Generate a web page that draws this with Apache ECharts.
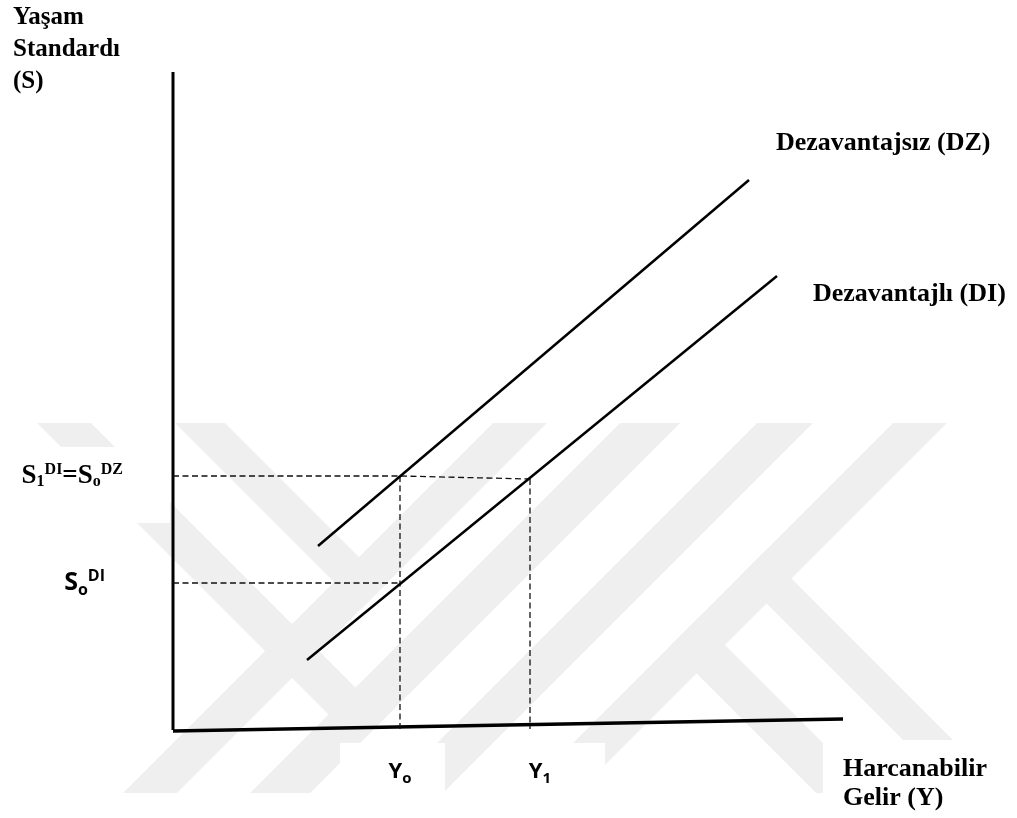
<!DOCTYPE html>
<html>
<head>
<meta charset="utf-8">
<script src="https://cdn.jsdelivr.net/npm/echarts@6/dist/echarts.min.js"></script>
<style>
  html, body { margin: 0; padding: 0; background: #fff; }
  #main { width: 1017px; height: 818px; }
</style>
</head>
<body>
<div id="main"></div>
<script>
// values are in axis units, origin at the corner of the two axes
const dzLine = [[145, 184], [576, 550]];
const diLine = [[134, 70], [604, 454]];
const yAxisLine = [[0, 0], [0, 658]];
const xAxisLine = [[0, -1], [670, 11]];

const incomeTicks = [227, 357];
const incomeTickLabels = ['{m|Y}{s|o}', '{m1|Y}{s|1}'];
const levelTicks = [147, 254];
const levelTickLabels = ['{c|S}{cs|o}{cp|DI}', '{b|S}{bs|1}{bp|DI}{b|=S}{bs|o}{bp|DZ}'];

const guideS1 = [[0, 254], [227, 254], [357, 251]];
const guideS0 = [[0, 147], [227, 147]];
const guideY0 = [[227, 254], [227, 0]];
const guideY1 = [[357, 251], [357, 1]];

const serif = '"Liberation Serif", "Times New Roman", serif';
const sans = '"Open Sans", "Noto Sans", sans-serif';

// faint background watermark (diagonal bands)
const T = 423, B = 793;
const slash = (a, b) => [[a - T, T], [b - T, T], [b - B, B], [a - B, B]];
const arm = (c, d, e) => [[c + T, T], [d + T, T], [(d + e) / 2, (e - d) / 2], [(c + e) / 2, (e - c) / 2]];
const leg = (c, d, e) => [[(c + e) / 2, (e - c) / 2], [(d + e) / 2, (e - d) / 2], [d + B, B], [c + B, B]];
const wmShapes = [
  slash(916, 970), slash(1043, 1103), slash(1180, 1236), slash(1316, 1370),
  arm(-248, -198, 970), arm(-386, -332, 1103),
  leg(23, 80, 1316), leg(163, 213, 1316)
];
const wmFill = '#efefef';

const graphic = wmShapes.map(p => ({
  type: 'polygon', shape: { points: p }, style: { fill: wmFill }, z: 0, silent: true
}));
// white boxes behind the labels in the source document
[[0, 447, 170, 76], [340, 743, 105, 50], [500, 743, 105, 50], [823, 740, 194, 78]].forEach(r => {
  graphic.push({ type: 'rect', shape: { x: r[0], y: r[1], width: r[2], height: r[3] }, style: { fill: '#fff' }, z: 0, silent: true });
});
graphic.push({
  type: 'text', left: 13, top: 2, z: 5,
  style: { text: 'Yaşam\nStandardı\n(S)', font: 'bold 25px ' + serif, lineHeight: 32, fill: '#000' }
});
graphic.push({
  type: 'text', left: 843, top: 755, z: 5,
  style: { text: 'Harcanabilir\nGelir (Y)', font: 'bold 26px ' + serif, lineHeight: 29, fill: '#000' }
});

const chart = echarts.init(document.getElementById('main'));

const solid = (data, w) => ({
  type: 'line', data, symbol: 'none', clip: false, silent: true,
  lineStyle: { color: '#000', width: w }
});
const dashed = data => ({
  type: 'line', data, symbol: 'none', clip: false, silent: true,
  lineStyle: { color: '#111', width: 1.3, type: [6, 3.5] }
});

chart.setOption({
  backgroundColor: '#fff',
  animation: false,
  graphic,
  grid: { left: 173, top: 72, width: 670, height: 658 },
  xAxis: {
    type: 'value', min: 0, max: 670,
    axisLine: { show: false }, axisTick: { show: false }, splitLine: { show: false },
    axisLabel: {
      customValues: incomeTicks,
      margin: 28,
      formatter: (v) => incomeTickLabels[incomeTicks.indexOf(v)],
      rich: {
        m: { fontFamily: sans, fontWeight: 'bold', fontSize: 22, color: '#000', lineHeight: 28 },
        m1: { fontFamily: sans, fontWeight: 'bold', fontSize: 22, color: '#000', lineHeight: 28, padding: [0, 0, 0, 20] },
        s: { fontFamily: sans, fontWeight: 'bold', fontSize: 15, color: '#000', verticalAlign: 'bottom', lineHeight: 20 }
      }
    }
  },
  yAxis: {
    type: 'value', min: 0, max: 658,
    axisLine: { show: false }, axisTick: { show: false }, splitLine: { show: false },
    axisLabel: {
      customValues: levelTicks,
      margin: 50,
      formatter: (v) => levelTickLabels[levelTicks.indexOf(v)],
      rich: {
        b: { fontFamily: serif, fontWeight: 'bold', fontSize: 27, color: '#000', lineHeight: 28 },
        bs: { fontFamily: serif, fontWeight: 'bold', fontSize: 16, color: '#000', verticalAlign: 'bottom', lineHeight: 17 },
        bp: { fontFamily: serif, fontWeight: 'bold', fontSize: 16, color: '#000', verticalAlign: 'top', lineHeight: 17 },
        c: { fontFamily: sans, fontWeight: 'bold', fontSize: 25, color: '#000', lineHeight: 30 },
        cs: { fontFamily: sans, fontWeight: 'bold', fontSize: 16, color: '#000', verticalAlign: 'bottom', lineHeight: 20 },
        cp: { fontFamily: sans, fontWeight: 'bold', fontSize: 16, color: '#000', verticalAlign: 'top', lineHeight: 20, padding: [0, 18, 0, 0] }
      }
    }
  },
  series: [
    solid(yAxisLine, 3),
    solid(xAxisLine, 3.5),
    dashed(guideS1),
    dashed(guideS0),
    dashed(guideY0),
    dashed(guideY1),
    Object.assign(solid(dzLine, 2.5), {
      name: 'Dezavantajsız (DZ)',
      endLabel: {
        show: true, formatter: '{a}', offset: [19, -37],
        fontFamily: serif, fontWeight: 'bold', fontSize: 26, color: '#000'
      }
    }),
    Object.assign(solid(diLine, 2.5), {
      name: 'Dezavantajlı (DI)',
      endLabel: {
        show: true, formatter: '{a}', offset: [28, 18],
        fontFamily: serif, fontWeight: 'bold', fontSize: 26, color: '#000'
      }
    })
  ]
});
</script>
</body>
</html>
